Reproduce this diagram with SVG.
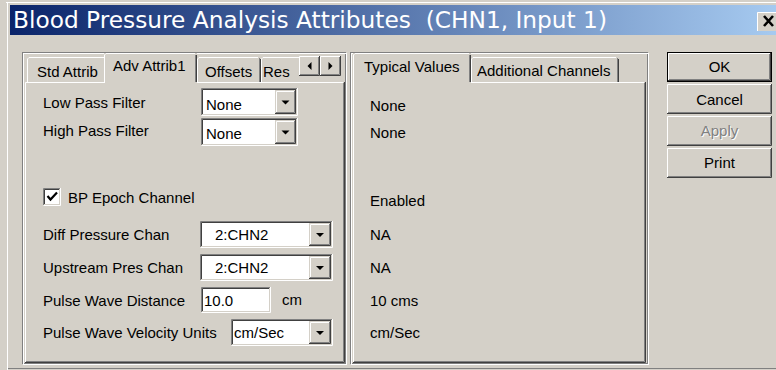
<svg xmlns="http://www.w3.org/2000/svg" width="776" height="370" viewBox="0 0 776 370">
<defs>
<linearGradient id="tb" x1="0" x2="1" y1="0" y2="0"><stop offset="0" stop-color="#0a246a"/><stop offset="1" stop-color="#a6caf0"/></linearGradient>
</defs>
<style>
.t{font-family:"Liberation Sans",Arial,sans-serif;font-size:15px;fill:#000}
.c{text-anchor:middle}
.ttl{font-family:"DejaVu Sans",Verdana,sans-serif;font-size:23px;fill:#fff;white-space:pre}
.w{stroke:#fff;fill:none}
.g{stroke:#808080;fill:none}
.d{stroke:#404040;fill:none}
.f{fill:#d4d0c8}
.wf{fill:#fff}
.arr{fill:#000}
</style>
<rect x="0" y="0" width="776" height="370" fill="#d4d0c8"/>
<g id="frame">
<path class="w" d="M6,2.5 H776 M7.5,2 V370"/>
<path class="g" d="M8,368.5 H776"/>
</g>
<g id="titlebar">
<rect x="10" y="5" width="766" height="30" fill="url(#tb)"/>
<text class="ttl" x="13" y="28" xml:space="preserve" textLength="594" lengthAdjust="spacingAndGlyphs">Blood Pressure Analysis Attributes  (CHN1, Input 1)</text>
<rect x="757" y="12" width="22" height="19" fill="#d4d0c8"/>
<path class="w" d="M757.5,31 V12.5 H776"/>
<path d="M764,16 L773,26 M773,16 L764,26" stroke="#000" stroke-width="2.6" fill="none"/>
</g>

<g id="left-panel">
<rect class="g" x="22.5" y="52.5" width="323" height="311"/>
<rect class="w" x="23.5" y="53.5" width="323" height="311"/>
<rect class="f" x="25" y="82" width="319" height="280"/>
<path class="w" d="M25.5,362 V82.5 H104 M197,82.5 H343"/>
<path class="d" d="M25,362.5 H344.5 V82"/>
<path class="g" d="M26,361.5 H343.5 V83"/>
</g>

<g id="tab-std">
<path class="w" d="M27.5,82 V59 L29,57.5 H104"/>
<text class="t" x="37" y="77">Std Attrib</text>
</g>
<g id="tab-offsets">
<path class="w" d="M197.5,82 V59 L199,57.5 H258"/>
<path class="d" d="M260.5,59 V82"/>
<path class="g" d="M259.5,58 V82"/>
<text class="t" x="205" y="77">Offsets</text>
</g>
<g id="tab-res">
<path class="w" d="M261.5,82 V59 L263,57.5 H299"/>
<text class="t" x="263" y="77">Res</text>
</g>
<g id="tab-adv">
<rect class="f" x="104" y="53" width="93" height="30"/>
<path class="w" d="M104.5,83 V55 L106,53.5 H195"/>
<path class="d" d="M196.5,55 V82"/>
<path class="g" d="M195.5,55 V82"/>
<text class="t" x="113" y="71">Adv Attrib1</text>
</g>
<g id="scroll-buttons">
<rect class="f" x="299" y="56" width="21" height="20"/>
<path class="w" d="M299.5,75 V56.5 H319"/>
<path class="d" d="M299,75.5 H319.5 V56"/>
<path class="g" d="M300,74.5 H318.5 V57"/>
<path class="arr" d="M311.5,62 v8 l-4,-4 z"/>
<rect class="f" x="320" y="56" width="21" height="20"/>
<path class="w" d="M320.5,75 V56.5 H340"/>
<path class="d" d="M320,75.5 H340.5 V56"/>
<path class="g" d="M321,74.5 H339.5 V57"/>
<path class="arr" d="M328.5,62 v8 l4,-4 z"/>
</g>

<g id="low-pass">
<text class="t" x="43" y="108">Low Pass Filter</text>
<path class="g" d="M201.5,115 V88.5 H297"/>
<path class="d" d="M202.5,114 V89.5 H296"/>
<path class="w" d="M201.5,115.5 H297.5 V88"/>
<rect class="wf" x="203" y="90" width="93" height="24"/>
<rect class="f" x="275" y="90" width="21" height="24"/>
<path class="w" d="M276.5,112 V91.5 H294"/>
<path class="d" d="M275,113.5 H295.5 V90"/>
<path class="g" d="M276,112.5 H294.5 V91"/>
<path class="arr" d="M281.5,100.5 h8 l-4,4 z"/>
<text class="t" x="206" y="110">None</text>
</g>
<g id="high-pass">
<text class="t" x="43" y="136">High Pass Filter</text>
<path class="g" d="M201.5,145 V118.5 H297"/>
<path class="d" d="M202.5,144 V119.5 H296"/>
<path class="w" d="M201.5,145.5 H297.5 V118"/>
<rect class="wf" x="203" y="120" width="93" height="24"/>
<rect class="f" x="275" y="120" width="21" height="24"/>
<path class="w" d="M276.5,142 V121.5 H294"/>
<path class="d" d="M275,143.5 H295.5 V120"/>
<path class="g" d="M276,142.5 H294.5 V121"/>
<path class="arr" d="M281.5,130.5 h8 l-4,4 z"/>
<text class="t" x="206" y="139">None</text>
</g>
<g id="bp-epoch">
<path class="g" d="M43.5,205 V188.5 H60"/>
<path class="d" d="M44.5,204 V189.5 H59"/>
<path class="w" d="M43.5,205.5 H60.5 V188"/>
<rect class="wf" x="45" y="190" width="14" height="14"/>
<path d="M47.5,196 l3,3.5 l6.5,-7" stroke="#000" stroke-width="2.2" fill="none"/>
<text class="t" x="68" y="203">BP Epoch Channel</text>
</g>
<g id="diff-pressure">
<text class="t" x="43" y="240">Diff Pressure Chan</text>
<path class="g" d="M200.5,247 V221.5 H332"/>
<path class="d" d="M201.5,246 V222.5 H331"/>
<path class="w" d="M200.5,247.5 H332.5 V221"/>
<rect class="wf" x="202" y="223" width="129" height="23"/>
<rect class="f" x="309" y="223" width="22" height="23"/>
<path class="w" d="M310.5,244 V224.5 H329"/>
<path class="d" d="M309,245.5 H330.5 V223"/>
<path class="g" d="M310,244.5 H329.5 V224"/>
<path class="arr" d="M316,233 h8 l-4,4 z"/>
<text class="t" x="215" y="240">2:CHN2</text>
</g>
<g id="upstream">
<text class="t" x="43" y="273">Upstream Pres Chan</text>
<path class="g" d="M200.5,280 V254.5 H332"/>
<path class="d" d="M201.5,279 V255.5 H331"/>
<path class="w" d="M200.5,280.5 H332.5 V254"/>
<rect class="wf" x="202" y="256" width="129" height="23"/>
<rect class="f" x="309" y="256" width="22" height="23"/>
<path class="w" d="M310.5,277 V257.5 H329"/>
<path class="d" d="M309,278.5 H330.5 V256"/>
<path class="g" d="M310,277.5 H329.5 V257"/>
<path class="arr" d="M316,266 h8 l-4,4 z"/>
<text class="t" x="215" y="273">2:CHN2</text>
</g>
<g id="pulse-distance">
<text class="t" x="43" y="306">Pulse Wave Distance</text>
<path class="g" d="M201.5,312 V287.5 H270"/>
<path class="d" d="M202.5,311 V288.5 H269"/>
<path class="w" d="M201.5,312.5 H270.5 V287"/>
<rect class="wf" x="203" y="289" width="66" height="22"/>
<text class="t" x="204" y="306">10.0</text>
<text class="t" x="282" y="305">cm</text>
</g>
<g id="velocity-units">
<text class="t" x="43" y="338">Pulse Wave Velocity Units</text>
<path class="g" d="M231.5,345 V319.5 H332"/>
<path class="d" d="M232.5,344 V320.5 H331"/>
<path class="w" d="M231.5,345.5 H332.5 V319"/>
<rect class="wf" x="233" y="321" width="98" height="23"/>
<rect class="f" x="309" y="321" width="22" height="23"/>
<path class="w" d="M310.5,342 V322.5 H329"/>
<path class="d" d="M309,343.5 H330.5 V321"/>
<path class="g" d="M310,342.5 H329.5 V322"/>
<path class="arr" d="M316,331 h8 l-4,4 z"/>
<text class="t" x="234" y="338">cm/Sec</text>
</g>

<g id="right-panel">
<rect class="g" x="350.5" y="52.5" width="297" height="311"/>
<rect class="w" x="351.5" y="53.5" width="297" height="311"/>
<rect class="f" x="353" y="82" width="292" height="280"/>
<path class="w" d="M353.5,362 V82.5 M471,82.5 H644"/>
<path class="d" d="M353,362.5 H645.5 V82"/>
<path class="g" d="M354,361.5 H644.5 V83"/>
</g>
<g id="tab-additional">
<path class="w" d="M471.5,82 V59 L473,57.5 H616"/>
<path class="d" d="M618.5,59 V82"/>
<path class="g" d="M617.5,58 V82"/>
<text class="t" x="477" y="76">Additional Channels</text>
</g>
<g id="tab-typical">
<rect class="f" x="353" y="53" width="118" height="30"/>
<path class="w" d="M353.5,83 V55 L355,53.5 H469"/>
<path class="d" d="M470.5,55 V82"/>
<path class="g" d="M469.5,55 V82"/>
<text class="t" x="364" y="72">Typical Values</text>
</g>
<g id="typical-values">
<text class="t" x="370" y="111">None</text>
<text class="t" x="370" y="138">None</text>
<text class="t" x="370" y="206">Enabled</text>
<text class="t" x="370" y="240">NA</text>
<text class="t" x="370" y="273">NA</text>
<text class="t" x="370" y="306">10 cms</text>
<text class="t" x="370" y="338">cm/Sec</text>
</g>

<g id="btn-ok">
<rect class="f" x="667" y="52" width="105" height="30"/>
<rect x="667.5" y="52.5" width="104" height="29" fill="none" stroke="#000"/>
<path class="w" d="M668.5,80 V53.5 H770"/>
<path class="d" d="M668,80.5 H770.5 V53"/>
<path class="g" d="M669,79.5 H769.5 V54"/>
<text class="t c" x="719.5" y="72">OK</text>
</g>
<g id="btn-cancel">
<rect class="f" x="667" y="84" width="105" height="30"/>
<path class="w" d="M667.5,113 V84.5 H771"/>
<path class="d" d="M667,113.5 H771.5 V84"/>
<path class="g" d="M668,112.5 H770.5 V85"/>
<text class="t c" x="719.5" y="105">Cancel</text>
</g>
<g id="btn-apply">
<rect class="f" x="667" y="116" width="105" height="30"/>
<path class="w" d="M667.5,145 V116.5 H771"/>
<path class="d" d="M667,145.5 H771.5 V116"/>
<path class="g" d="M668,144.5 H770.5 V117"/>
<text class="t c" x="720.5" y="137" style="fill:#fff">Apply</text>
<text class="t c" x="719.5" y="136" style="fill:#808080">Apply</text>
</g>
<g id="btn-print">
<rect class="f" x="667" y="148" width="105" height="30"/>
<path class="w" d="M667.5,177 V148.5 H771"/>
<path class="d" d="M667,177.5 H771.5 V148"/>
<path class="g" d="M668,176.5 H770.5 V149"/>
<text class="t c" x="719.5" y="168">Print</text>
</g>
<g id="connectors"/>
</svg>
